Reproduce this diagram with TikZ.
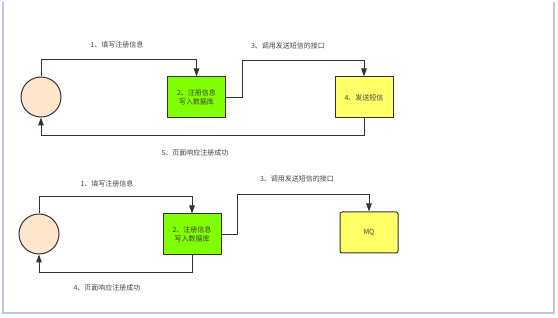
\documentclass[tikz,border=0pt]{standalone}
\usepackage{fontspec}
\usepackage{tikz}
\usetikzlibrary{arrows.meta, positioning}
\newfontfamily\cjk{Noto Sans CJK SC}
\definecolor{linegray}{HTML}{333333}
\definecolor{textgray}{HTML}{444444}
\definecolor{lime}{HTML}{80FF00}
\definecolor{lemon}{HTML}{FFFF66}
\definecolor{peach}{HTML}{FFE6CC}
\definecolor{frameblue}{HTML}{BCC7DA}

\begin{document}
\begin{tikzpicture}[
    x=1pt, y=-1pt,
    every node/.style={font=\cjk\fontsize{7}{8.5}\selectfont, text=textgray},
    user/.style={circle, draw=linegray, fill=peach, line width=1pt, minimum size=40pt, inner sep=0pt},
    box/.style={
        rectangle,
        draw=linegray,
        line width=1pt,
        minimum width=58pt,
        minimum height=41pt,
        align=center,
        inner sep=1pt
    },
    dbbox/.style={box, fill=lime},
    smsbox/.style={box, fill=lemon},
    mqbox/.style={box, fill=lemon, rounded corners=2pt},
    arrow/.style={-{Triangle[length=8pt, width=5.5pt]}, line width=1pt, color=linegray}
]
\useasboundingbox (0,0) rectangle (558,318);

% FRAME
\draw[frameblue, line width=2pt] (3,2) -- (3,313) -- (554,313) -- (554,2);

% NODES (top)
\node[user]   (user1) at (41,97)    {};
\node[dbbox]  (db1)   at (196.5,97.5) {2、注册信息\\写入数据库};
\node[smsbox] (sms1)  at (364,97.5) {4、发送短信};

% NODES (bottom)
\node[user]   (user2) at (39,234)   {};
\node[dbbox]  (db2)   at (192,234.5) {2、注册信息\\写入数据库};
\node[mqbox]  (mq)    at (369,232.5) {MQ};

% LABELS
\node (fill1)  at (117,45)  {1、填写注册信息};
\node (call1)  at (288,46)  {3、调用发送短信的接口};
\node (resp1)  at (195,153) {5、页面响应注册成功};
\node (fill2)  at (107,184) {1、填写注册信息};
\node (call2)  at (297,179) {3、调用发送短信的接口};
\node (resp2)  at (107,288) {4、页面响应注册成功};

% ARROWS
\draw[arrow] (user1.north) -- ++(0,-17) -| (db1.north);
\draw[arrow] (db1.east) -- ++(16,0) -- ++(0,-37) -| (sms1.north);
\draw[arrow] (sms1.south) -- ++(0,17) -| (user1.south);

\draw[arrow] (user2.north) -- ++(0,-17) -| (db2.north);
\draw[arrow] (db2.east) -- ++(16,0) -- ++(0,-39.5) -| (mq.north);
\draw[arrow] (db2.south) -- ++(0,17) -| (user2.south);

\end{tikzpicture}
\end{document}
